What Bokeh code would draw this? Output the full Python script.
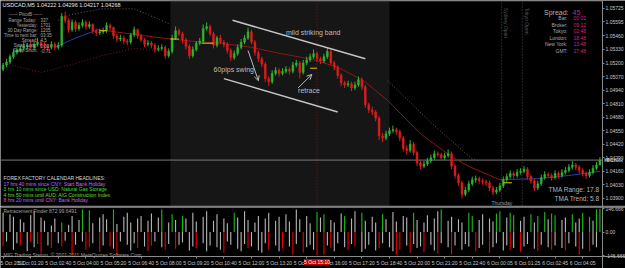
import math
from bokeh.plotting import figure
from bokeh.layouts import column
from bokeh.models import (Range1d, FixedTicker, PrintfTickFormatter, Label, Span,
                          BoxAnnotation, Arrow, OpenHead, ColumnDataSource)
from bokeh.embed import file_html
from bokeh.resources import INLINE

# ---------------- data (USDCAD M5, every second bar) ----------------
bar_index = list(range(0, 347, 2))

opens = [1.0514,1.0518,1.0521,1.0526,1.0530,1.0532,1.0534,1.0536,1.0537,1.0535,
         1.0538,1.0540,1.0537,1.0536,1.0535,1.0538,1.0535,1.0537,1.0565,1.0561,
         1.0552,1.0559,1.0553,1.0556,1.0559,1.0555,1.0557,1.0551,1.0549,1.0550,
         1.0551,1.0556,1.0554,1.0546,1.0543,1.0544,1.0541,1.0540,1.0547,1.0552,
         1.0546,1.0542,1.0538,1.0539,1.0537,1.0533,1.0534,1.0535,1.0527,1.0531,
         1.0544,1.0551,1.0548,1.0542,1.0536,1.0527,1.0533,1.0539,1.0541,1.0553,
         1.0555,1.0548,1.0537,1.0544,1.0540,1.0538,1.0532,1.0525,1.0529,1.0535,
         1.0540,1.0544,1.0550,1.0540,1.0530,1.0524,1.0519,1.0505,1.0502,1.0510,
         1.0513,1.0510,1.0512,1.0514,1.0512,1.0518,1.0520,1.0511,1.0520,1.0523,
         1.0526,1.0529,1.0524,1.0522,1.0526,1.0531,1.0520,1.0516,1.0508,1.0501,
         1.0499,1.0500,1.0496,1.0499,1.0504,1.0497,1.0480,1.0475,1.0473,1.0467,
         1.0450,1.0448,1.0452,1.0455,1.0456,1.0454,1.0448,1.0438,1.0436,1.0442,
         1.0434,1.0424,1.0421,1.0423,1.0426,1.0429,1.0433,1.0432,1.0429,1.0431,
         1.0433,1.0421,1.0412,1.0405,1.0394,1.0398,1.0404,1.0408,1.0409,1.0407,
         1.0406,1.0405,1.0400,1.0396,1.0398,1.0402,1.0408,1.0411,1.0414,1.0412,
         1.0415,1.0416,1.0418,1.0411,1.0407,1.0400,1.0404,1.0410,1.0413,1.0412,
         1.0410,1.0414,1.0412,1.0415,1.0417,1.0420,1.0422,1.0420,1.0417,1.0414,
         1.0412,1.0415,1.0419,1.04222]

highs = [1.0520,1.0524,1.0528,1.0533,1.0535,1.0537,1.0540,1.0539,1.0541,1.0540,
         1.0544,1.0542,1.0540,1.0538,1.0541,1.0540,1.0540,1.0568,1.0569,1.0563,
         1.0562,1.0561,1.0559,1.0562,1.0561,1.0560,1.0558,1.0553,1.0553,1.0554,
         1.0559,1.0558,1.0555,1.0548,1.0547,1.0546,1.0543,1.0549,1.0555,1.0553,
         1.0548,1.0544,1.0542,1.0541,1.0539,1.0537,1.0538,1.0537,1.0534,1.0547,
         1.0555,1.0553,1.0550,1.0544,1.0538,1.0536,1.0541,1.0544,1.0557,1.0559,
         1.0557,1.0550,1.0546,1.0547,1.0542,1.0540,1.0534,1.0532,1.0538,1.0543,
         1.0547,1.0554,1.0552,1.0542,1.0532,1.0526,1.0521,1.0507,1.0513,1.0516,
         1.0515,1.0515,1.0517,1.0516,1.0521,1.0523,1.0522,1.0523,1.0526,1.0529,
         1.0533,1.0531,1.0526,1.0529,1.0535,1.0533,1.0522,1.0518,1.0510,1.0503,
         1.0503,1.0502,1.0502,1.0507,1.0506,1.0499,1.0482,1.0478,1.0475,1.0469,
         1.0453,1.0455,1.0458,1.0460,1.0458,1.0456,1.0450,1.0441,1.0446,1.0444,
         1.0436,1.0426,1.0426,1.0429,1.0432,1.0436,1.0435,1.0434,1.0434,1.0437,
         1.0435,1.0423,1.0414,1.0407,1.0401,1.0407,1.0411,1.0412,1.0411,1.0409,
         1.0408,1.0407,1.0402,1.0401,1.0405,1.0411,1.0414,1.0417,1.0416,1.0418,
         1.0419,1.0421,1.0420,1.0413,1.0409,1.0407,1.0413,1.0416,1.0415,1.0414,
         1.0417,1.0416,1.0418,1.0420,1.0423,1.0426,1.0424,1.0422,1.0419,1.0416,
         1.0418,1.0422,1.0425,1.04296]

lows = [1.0512,1.0516,1.0519,1.0524,1.0528,1.0530,1.0532,1.0533,1.0533,1.0532,
        1.0536,1.0534,1.0533,1.0531,1.0533,1.0532,1.0533,1.0535,1.0558,1.0549,
        1.0550,1.0550,1.0551,1.0554,1.0552,1.0553,1.0548,1.0546,1.0547,1.0548,
        1.0549,1.0551,1.0543,1.0540,1.0541,1.0538,1.0537,1.0538,1.0545,1.0543,
        1.0540,1.0535,1.0536,1.0534,1.0530,1.0531,1.0532,1.0524,1.0525,1.0529,
        1.0542,1.0546,1.0539,1.0533,1.0524,1.0525,1.0531,1.0537,1.0539,1.0551,
        1.0546,1.0534,1.0535,1.0538,1.0535,1.0529,1.0522,1.0523,1.0527,1.0533,
        1.0538,1.0542,1.0538,1.0527,1.0521,1.0516,1.0502,1.0498,1.0500,1.0508,
        1.0507,1.0508,1.0510,1.0509,1.0510,1.0516,1.0505,1.0509,1.0518,1.0521,
        1.0524,1.0521,1.0519,1.0520,1.0524,1.0518,1.0513,1.0505,1.0498,1.0496,
        1.0497,1.0493,1.0494,1.0497,1.0494,1.0477,1.0472,1.0470,1.0464,1.0446,
        1.0444,1.0446,1.0450,1.0453,1.0451,1.0445,1.0435,1.0432,1.0434,1.0431,
        1.0421,1.0418,1.0419,1.0421,1.0424,1.0427,1.0430,1.0427,1.0427,1.0429,
        1.0418,1.0409,1.0402,1.0390,1.0392,1.0396,1.0402,1.0405,1.0404,1.0403,
        1.0402,1.0397,1.0393,1.0394,1.0396,1.0400,1.0406,1.0409,1.0409,1.0410,
        1.0413,1.0414,1.0408,1.0404,1.0397,1.0398,1.0402,1.0408,1.0410,1.0407,
        1.0408,1.0409,1.0410,1.0413,1.0415,1.0418,1.0417,1.0414,1.0411,1.0409,
        1.0410,1.0413,1.0417,1.04217]

closes = [1.0518,1.0521,1.0526,1.0530,1.0532,1.0534,1.0536,1.0537,1.0535,1.0538,
          1.0540,1.0537,1.0536,1.0535,1.0538,1.0535,1.0537,1.0565,1.0561,1.0552,
          1.0559,1.0553,1.0556,1.0559,1.0555,1.0557,1.0551,1.0549,1.0550,1.0551,
          1.0556,1.0554,1.0546,1.0543,1.0544,1.0541,1.0540,1.0547,1.0552,1.0546,
          1.0542,1.0538,1.0539,1.0537,1.0533,1.0534,1.0535,1.0527,1.0531,1.0544,
          1.0551,1.0548,1.0542,1.0536,1.0527,1.0533,1.0539,1.0541,1.0553,1.0555,
          1.0548,1.0537,1.0544,1.0540,1.0538,1.0532,1.0525,1.0529,1.0535,1.0540,
          1.0544,1.0550,1.0540,1.0530,1.0524,1.0519,1.0505,1.0502,1.0510,1.0513,
          1.0510,1.0512,1.0514,1.0512,1.0518,1.0520,1.0511,1.0520,1.0523,1.0526,
          1.0529,1.0524,1.0522,1.0526,1.0531,1.0520,1.0516,1.0508,1.0501,1.0499,
          1.0500,1.0496,1.0499,1.0504,1.0497,1.0480,1.0475,1.0473,1.0467,1.0450,
          1.0448,1.0452,1.0455,1.0456,1.0454,1.0448,1.0438,1.0436,1.0442,1.0434,
          1.0424,1.0421,1.0423,1.0426,1.0429,1.0433,1.0432,1.0429,1.0431,1.0433,
          1.0421,1.0412,1.0405,1.0394,1.0398,1.0404,1.0408,1.0409,1.0407,1.0406,
          1.0405,1.0400,1.0396,1.0398,1.0402,1.0408,1.0411,1.0414,1.0412,1.0415,
          1.0416,1.0418,1.0411,1.0407,1.0400,1.0404,1.0410,1.0413,1.0412,1.0410,
          1.0414,1.0412,1.0415,1.0417,1.0420,1.0422,1.0420,1.0417,1.0414,1.0412,
          1.0415,1.0419,1.04222,1.04268]

bid_price = 1.04268

# TMA indicator lines (bar index, price)
tma_mid_idx = [30, 42, 55, 74, 92, 109, 126, 144, 161, 178, 194, 209, 223, 242, 261, 271, 288, 311, 328, 346]
tma_mid_price = [1.0535, 1.0544, 1.0552, 1.0548, 1.0544, 1.0541, 1.0539, 1.0535, 1.0529, 1.0524,
                 1.0516, 1.0503, 1.0484, 1.0452, 1.0429, 1.0420, 1.0408, 1.0409, 1.0412, 1.0416]
tma_up_idx = [32, 38, 57, 76, 96, 160, 223, 248, 271, 276]
tma_up_price = [1.0561, 1.0566, 1.0572, 1.0572, 1.0558, float("nan"), 1.0503, 1.0463, 1.0429, 1.0426]
tma_lo_idx = [0, 22, 39, 57, 76, 96]
tma_lo_price = [1.0520, 1.0511, 1.0518, 1.0527, 1.0534, 1.0531]

# yellow pivot marks
yel_x0 = [56, 97, 115, 178, 290]
yel_x1 = [60, 102, 122, 182, 295]
yel_price = [1.0551, 1.0543, 1.0539, 1.0515, 1.0405]

# hand-drawn channel and arrows
chan_top_idx = [133, 210]
chan_top_price = [1.0561, 1.0524]
chan_bot_idx = [128, 194]
chan_bot_price = [1.0505, 1.0473]
swing_arrow = (142, 1.0532, 148, 1.0503)
retrace_arrow = (171, 1.0496, 179, 1.0509)

price_ticks = [1.05725, 1.05595, 1.05460, 1.05330, 1.05200, 1.05070, 1.04940, 1.04810,
               1.04680, 1.04550, 1.04420, 1.04290, 1.04160, 1.04030, 1.03900]

date_tick_idx = [0, 16, 32, 48, 64, 80, 96, 112, 128, 144, 160, 176, 192, 208, 224, 240,
                 256, 272, 288, 304, 320, 336]
date_tick_labels = ["5 Oct 2011", "5 Oct 01:20", "5 Oct 02:40", "5 Oct 04:00", "5 Oct 05:20",
                    "5 Oct 06:40", "5 Oct 08:00", "5 Oct 09:20", "5 Oct 10:40", "5 Oct 12:00",
                    "5 Oct 13:20", "5 Oct 14:40", "5 Oct 16:00", "5 Oct 17:20", "5 Oct 18:40",
                    "5 Oct 20:00", "5 Oct 21:20", "5 Oct 22:40", "6 Oct 00:05", "6 Oct 01:25",
                    "6 Oct 02:45", "6 Oct 04:05"]

# Retracement Finder histogram
up_vals = [120, 0, 110, 95, 0, 80, 60, 0, 105, 130,
           0, 90, 70, 0, 40, 85, 0, 60, 0, 45,
           100, 0, 75, 140, 0, 135, 55, 0, 90, 110,
           80, 0, 140, 50, 0, 95, 120, 60, 0, 85,
           100, 0, 70, 115, 0, 90, 140, 0, 60, 110,
           75, 0, 100, 85, 0, 120, 65, 0, 95, 130,
           0, 70, 110, 0, 85, 55, 0, 120, 90, 0,
           130, 75, 0, 60, 100, 0, 85, 120, 0, 70,
           95, 0, 110, 65, 0, 140, 80, 0, 100, 55,
           0, 125, 90, 110, 0, 75, 60, 0, 115, 100,
           0, 85, 130, 0, 120, 70, 0, 95, 60, 0,
           110, 80, 0, 125, 65, 0, 100, 90, 0, 120,
           75, 0, 60, 105, 0, 85, 130, 140, 0, 70,
           95, 0, 80, 60, 0, 120, 100, 0, 75, 110,
           0, 85, 65, 115, 130, 0, 90, 120, 105, 0,
           70, 95, 0, 110, 60, 100, 0, 125, 80, 115,
           105, 0, 75, 90, 0, 110, 60, 85, 120, 0,
           95, 70, 140, 145]
down_vals = [-90, -60, 0, -110, -70, -80, 0, -120, -60, -95,
             -75, -130, 0, -85, -100, 0, -70, -90, -55, 0,
             -145, -80, 0, -60, -110, -95, -70, 0, -125, -85,
             0, -90, -105, -140, -60, 0, -80, -115, -70, -100,
             0, -90, -120, -85, -60, 0, -95, -110, -75, 0,
             -105, -80, -65, 0, -115, -90, -100, 0, -70, -120,
             -85, 0, -95, -110, -130, -60, -80, 0, -105, -120,
             -75, -100, -90, 0, -115, -130, -70, -110, 0, -85,
             -120, -105, 0, -90, -140, -75, 0, -130, -95, -80,
             -110, -145, 0, -140, -85, -100, -120, -70, 0, -95,
             -110, -75, -90, 0, -125, -105, -80, 0, -115, -100,
             -70, 0, -95, -120, -140, -110, 0, -85, -130, -75,
             -100, -90, -125, 0, -80, -115, -135, -70, 0, -95,
             -140, -85, 0, -110, -75, -90, 0, -120, -100, -80,
             0, -130, -95, -70, 0, -115, -85, -110, -100, 0,
             -125, -90, -75, 0, -105, -120, -80, 0, -95, -110,
             -85, 0, -100, -115, -70, 0, -90, -140, -105, 0,
             -120, -80, -95, 0]
green_up_idx = [17, 23, 25, 32, 46, 49, 52, 67, 91, 93, 99, 104, 110, 119, 127, 135, 136,
                143, 144, 147, 148, 153, 155, 157, 159, 160, 165, 168, 170, 172, 173]
red_down_idx = [0, 5, 8, 10, 11, 14, 17, 20, 24, 25, 28, 31, 33, 39, 42, 43, 47, 50, 56, 64,
                71, 77, 81, 84, 87, 91, 93, 95, 100, 102, 109, 114, 115, 118, 122, 126, 130,
                137, 141, 147, 150, 155, 159, 163, 167, 170]
hist_level = 146.666

# info texts
title_text = "USDCAD,M5  1.04222 1.04296 1.04217 1.04268"
pivot_labels = ["Range  Today:", "Yesterday:", "30 Day Range:", "Time to next bar:",
                "Spread:", "Swap Long:", "Swap Short:"]
pivot_values = ["337", "1701", "1205", "03:35", "4.5", "0.00", "-0.71"]
clock_labels = ["Bar:", "Broker:", "Tokyo:", "London:", "New York:", "GMT:"]
clock_values = ["00:02", "09:12", "02:48", "18:48", "13:48", "17:48"]
news_lines = ["17 hrs 40 mins since CNY: Start Bank Holiday",
              "3 hrs 10 mins since USD: Natural Gas Storage",
              "4 hrs 50 mins until AUD: AIG Construction Index",
              "8 hrs 20 mins until CNY: Bank Holiday"]
news_colors = ["#cc66ee", "#44dd44", "#77dd22", "#bb66ff"]
session_idx = [289, 301]
session_names = ["Sydney Open", "Tokyo Open"]
cursor_idx = 182
cursor_label = "5 Oct 15:10"
london_box = (97, 224)

# ---------------- styling ----------------
FONT = "Liberation Sans"
GREEN = "#2fb52f"
RED = "#e01c1c"
AXIS = "#8a8a8a"
LBL = "#c8c8c8"
W = 625
MAIN_H = 206
SUB_H = 62
SCALE_PX = 602.0
X0 = -1.5
SCALE_X = 347.5            # bar position of the price scale line
X1 = X0 + (SCALE_X - X0) * W / SCALE_PX
PY0, PY1 = 1.038224, 1.058
HPX = 2 * hist_level / 47.0            # indicator units per pixel
HY1 = hist_level + 2 * HPX
HY0 = HY1 - SUB_H * HPX
HAXIS = HY1 - 50 * HPX                 # bottom line of the indicator window

xr = Range1d(X0, X1)


def style_axis(a, size):
    a.axis_line_color = AXIS
    a.major_tick_line_color = AXIS
    a.minor_tick_line_color = None
    a.major_tick_in = 0
    a.major_tick_out = 2
    a.major_label_standoff = 1
    a.major_label_text_font_size = size
    a.major_label_text_font = FONT
    a.major_label_text_color = LBL
    a.major_label_text_align = "left"


p = figure(width=W, height=MAIN_H, x_range=xr, y_range=Range1d(PY0, PY1),
           x_axis_location=None, y_axis_location="right", toolbar_location=None,
           output_backend="svg", min_border_left=0, min_border_right=0,
           min_border_top=0, min_border_bottom=0)
p.background_fill_color = "black"
p.border_fill_color = "black"
p.outline_line_color = None
p.xgrid.visible = False
p.ygrid.visible = False

ax = p.yaxis[0]
ax.fixed_location = SCALE_X
ax.ticker = FixedTicker(ticks=price_ticks)
ax.formatter = PrintfTickFormatter(format="%.5f")
style_axis(ax, "5px")

# window borders
p.add_layout(Span(location=PY0, dimension="width", line_color=AXIS, line_width=1.5))
p.segment(x0=[X0], y0=[PY1], x1=[SCALE_X], y1=[PY1], line_color=AXIS, line_width=1.5)

# session shading and separators
p.add_layout(BoxAnnotation(left=london_box[0], right=london_box[1], fill_color="#161616",
                           fill_alpha=1, line_color=None, level="underlay"))
for s in session_idx:
    p.add_layout(Span(location=s, dimension="height", line_color="#4a4a4a",
                      line_dash="1 2", line_width=1, level="underlay"))
p.add_layout(Span(location=cursor_idx, dimension="height", line_color="#8a1010",
                  line_dash="1 2", line_width=1, level="underlay"))
p.segment(x0=[X0], y0=[bid_price], x1=[SCALE_X], y1=[bid_price], line_color="#7a7a7a",
          line_width=1)

# TMA bands
p.line(tma_up_idx, tma_up_price, line_color="#5c5c5c", line_dash="1 2", line_width=1)
p.line(tma_lo_idx, tma_lo_price, line_color="#8a1515", line_dash="1 2", line_width=1)
p.line(tma_mid_idx[:3], tma_mid_price[:3], line_color="#2440a8", line_width=1)
p.line(tma_mid_idx[2:17], tma_mid_price[2:17], line_color="#8e1616", line_width=1)
p.line(tma_mid_idx[16:], tma_mid_price[16:], line_color="#2440a8", line_width=1)

# candles
colors = [GREEN if c >= o else RED for o, c in zip(opens, closes)]
src = ColumnDataSource(dict(
    x=bar_index, h=highs, l=lows,
    top=[max(o, c) for o, c in zip(opens, closes)],
    bottom=[min(o, c) for o, c in zip(opens, closes)],
    color=colors))
p.segment(x0="x", y0="h", x1="x", y1="l", line_color="color", line_width=1, source=src)
p.vbar(x="x", width=1.0, top="top", bottom="bottom", fill_color="color",
       line_color="color", line_width=0.6, source=src)

# yellow pivot marks
p.segment(x0=yel_x0, y0=yel_price, x1=yel_x1, y1=yel_price, line_color="#e0c020", line_width=1)

# hand drawn channel
p.line(chan_top_idx, chan_top_price, line_color="#c4c4c4", line_width=1.5)
p.line(chan_bot_idx, chan_bot_price, line_color="#c4c4c4", line_width=1.5)
for (x0, y0, x1, y1) in [swing_arrow, retrace_arrow]:
    p.add_layout(Arrow(end=OpenHead(size=5, line_color="#b8b8b8", line_width=1),
                       x_start=x0, y_start=y0, x_end=x1, y_end=y1,
                       line_color="#b8b8b8", line_width=1))


def lab(fig, x, y, text, size="5px", color=LBL, align="left", baseline="middle",
        xu="screen", yu="screen", angle=0, bg=None):
    kw = dict(x=x, y=y, text=text, text_font=FONT, text_font_size=size, text_color=color,
              text_align=align, text_baseline=baseline, angle=angle,
              x_units=xu, y_units=yu)
    if bg is not None:
        kw.update(background_fill_color=bg, background_fill_alpha=1.0)
    fig.add_layout(Label(**kw))


def sy(y_img):
    return MAIN_H - y_img


# chart annotations (data positioned)
lab(p, 164, 1.0549, "mild striking band", size="7px", color="#bdbdbd", xu="data", yu="data")
lab(p, 122, 1.0514, "60pips swing", size="7px", color="#bdbdbd", xu="data", yu="data")
lab(p, 171, 1.0494, "retrace", size="7px", color="#bdbdbd", xu="data", yu="data")

# title
lab(p, 2, sy(4), title_text, size="5.5px", color="#e8e8e8")
# pivot block
lab(p, 25, sy(14), "------ PivotB ------", size="4.5px", color="#a8a8a8", align="center")
for i, (t, v) in enumerate(zip(pivot_labels, pivot_values)):
    yy = 19.5 + i * 5.1
    lab(p, 37, sy(yy), t, size="4.5px", color="#a8a8a8", align="right")
    lab(p, 40, sy(yy), v, size="4.5px", color="#a8a8a8")

# spread / clocks
lab(p, 568, sy(12), "Spread:", size="7px", color="#b0b0b0", align="right")
lab(p, 572, sy(12), "45", size="7px", color="#d0208e")
for i, (t, v) in enumerate(zip(clock_labels, clock_values)):
    yy = 17.5 + i * 6.6
    lab(p, 567, sy(yy), t, size="5px", color="#a8a8a8", align="right")
    lab(p, 573, sy(yy), v, size="5px", color="#d0208e")

# session names (vertical)
for s, name in zip(session_idx, session_names):
    lab(p, s + 0.8, 1.0573, name, size="5px", color="#555555", xu="data", yu="data",
        angle=-math.pi / 2, baseline="bottom")

# news block
lab(p, 3, sy(177.5), "FOREX FACTORY CALENDAR HEADLINES:", size="5px", color="#d8d8d8")
for i, (t, c) in enumerate(zip(news_lines, news_colors)):
    lab(p, 3, sy(183.5 + i * 5.3), t, size="5px", color=c)

lab(p, 491, sy(202), "Thursday", size="5px", color="#9a9a9a")

# TMA info
lab(p, 599, sy(189), "TMA Range: 17.8", size="6.5px", color="#b4b4b4", align="right")
lab(p, 599, sy(198), "TMA Trend: 5.8", size="6.5px", color="#b4b4b4", align="right")

# bid box on the price scale
lab(p, SCALE_X + 1.2, bid_price, "1.04268", size="5px", color="#000000", xu="data",
    yu="data", bg="#b4b4b4")

# ---------------- sub window ----------------
q = figure(width=W, height=SUB_H, x_range=xr, y_range=Range1d(HY0, HY1),
           y_axis_location="right", x_axis_location="below", toolbar_location=None,
           output_backend="svg", min_border_left=0, min_border_right=0,
           min_border_top=0, min_border_bottom=0)
q.background_fill_color = "black"
q.border_fill_color = "black"
q.outline_line_color = None
q.xgrid.visible = False
q.ygrid.visible = False

up_colors = ["#1fb51f" if i in green_up_idx else "#b4b4b4" for i in range(len(up_vals))]
dn_colors = ["#e80000" if i in red_down_idx else "#b4b4b4" for i in range(len(down_vals))]
q.vbar(x=bar_index, width=0.65, top=up_vals, bottom=0, fill_color=up_colors, line_color=None)
q.vbar(x=bar_index, width=0.65, top=0, bottom=down_vals, fill_color=dn_colors, line_color=None)

qy = q.yaxis[0]
qy.fixed_location = SCALE_X
qy.ticker = FixedTicker(ticks=[hist_level, 0, -hist_level])
qy.major_label_overrides = {hist_level: "146.666", 0: "0.00", -hist_level: "-146.666"}
style_axis(qy, "5px")
qx = q.xaxis[0]
qx.fixed_location = HAXIS
qx.ticker = FixedTicker(ticks=date_tick_idx)
qx.major_label_overrides = {t: s for t, s in zip(date_tick_idx, date_tick_labels)}
style_axis(qx, "5px")
q.add_layout(Span(location=HY1 - 0.8 * HPX, dimension="width", line_color=AXIS,
                  line_width=1))

lab(q, 3, SUB_H - 4, "Retracement Finder 872 99.6491", size="5px", color="#a0a0a0")
lab(q, 3, SUB_H - 48.5, "MIG Trading Station, \u00a9 2001-2011 MetaQuotes Software Corp.",
    size="5px", color="#a0a0a0")
lab(q, cursor_idx, HY1 - 55.5 * HPX, cursor_label, size="5px", color="#ffffff",
    xu="data", yu="data", baseline="middle", align="center", bg="#c00000")

layout = column(p, q, spacing=0)
open("out.html", "w").write(file_html(layout, INLINE))
